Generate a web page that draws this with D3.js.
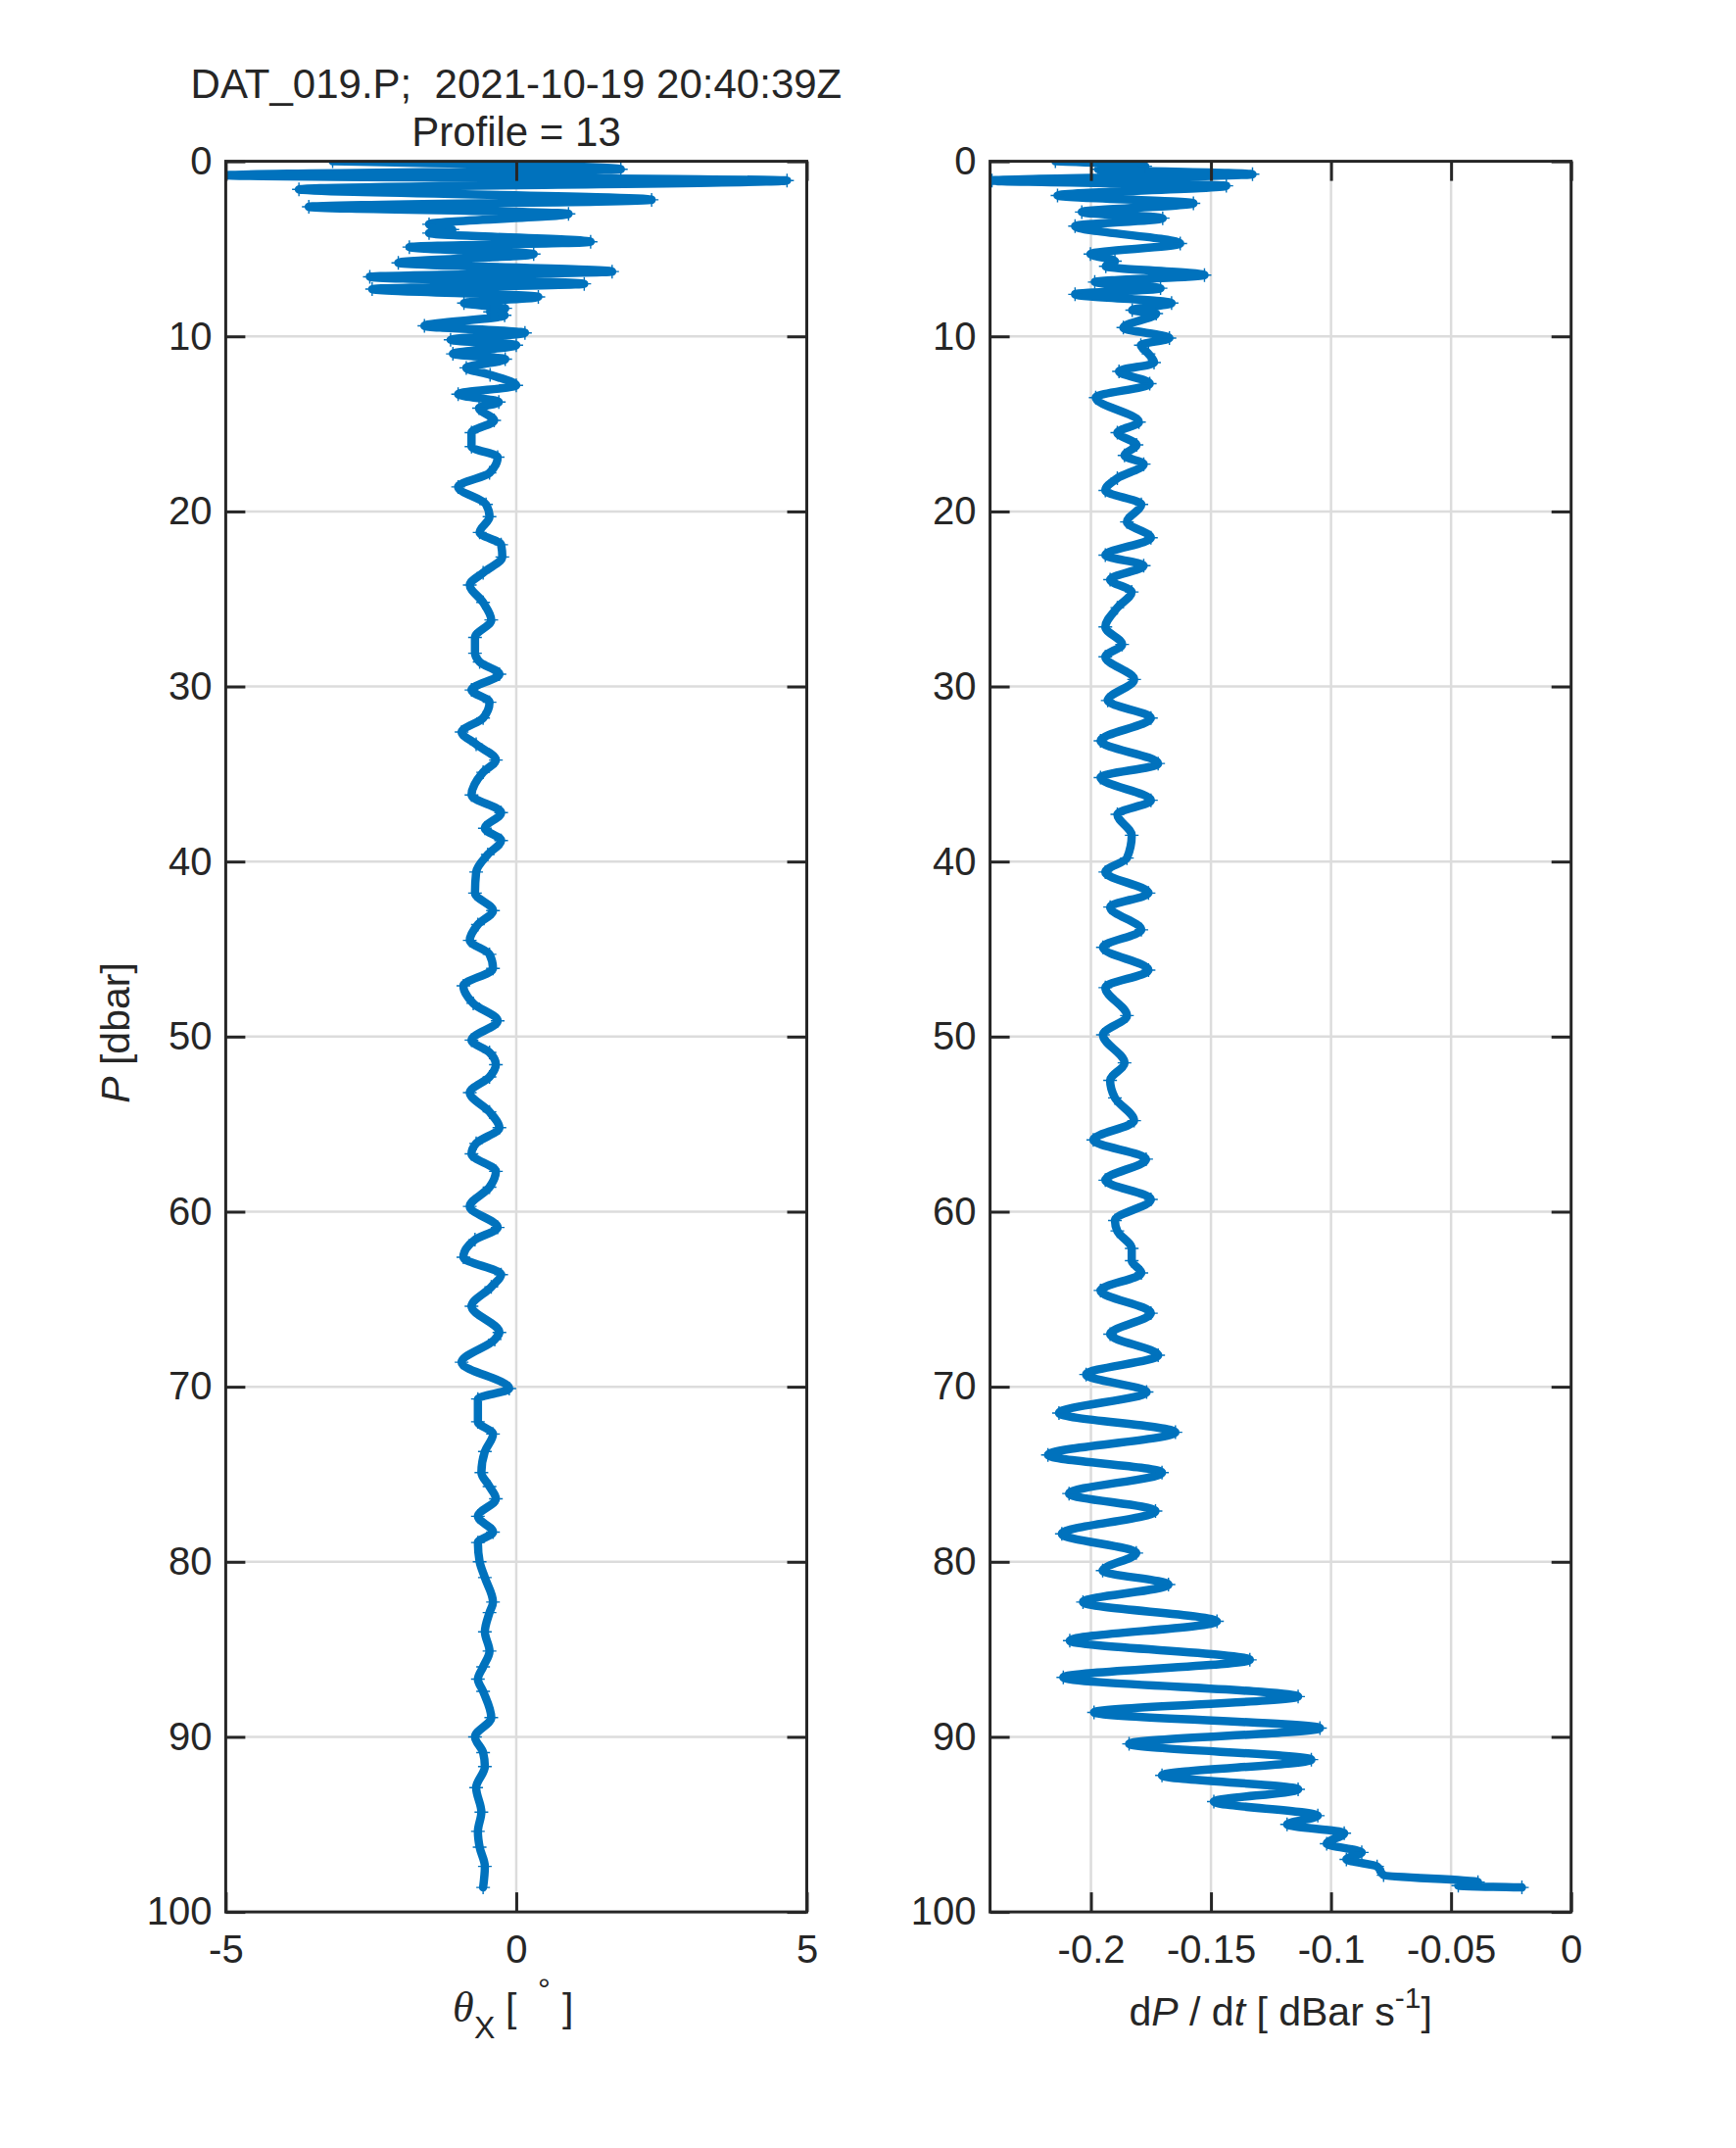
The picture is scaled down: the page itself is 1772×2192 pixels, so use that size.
<!DOCTYPE html>
<html>
<head>
<meta charset="utf-8">
<script src="https://cdn.jsdelivr.net/npm/d3@7"></script>
<style>
  html, body { margin: 0; padding: 0; background: #ffffff; }
  svg { display: block; }
  text { font-family: "Liberation Sans", Arial, Helvetica, sans-serif; fill: #262626; }
</style>
</head>
<body>
<svg id="chart" width="1772" height="2192"></svg>
<script>
// ---------------- DATA ----------------
const titleLines = ["DAT_019.P;  2021-10-19 20:40:39Z", "Profile = 13"];

const pressureTicks = [0, 10, 20, 30, 40, 50, 60, 70, 80, 90, 100];
const pressureTickLabels = ["0", "10", "20", "30", "40", "50", "60", "70", "80", "90", "100"];

const thetaTicks = [-5, 0, 5];
const thetaTickLabels = ["-5", "0", "5"];
const thetaDomain = [-5, 5];

const dpdtTicks = [-0.2, -0.15, -0.1, -0.05, 0];
const dpdtTickLabels = ["-0.2", "-0.15", "-0.1", "-0.05", "0"];
const dpdtDomain = [-0.242, 0];

// theta_X [deg] vs P [dbar]
const thetaP = [0, 0.46, 0.8, 1.1, 1.6, 2.2, 2.6, 3.0, 3.6, 3.9, 4.1, 4.6, 4.9, 5.3, 5.8, 6.3, 6.6, 7.0, 7.3, 7.75,
  8.1, 8.4, 8.6, 8.8, 9.4, 9.8, 10.2, 10.5, 11.0, 11.3, 11.8, 12.2, 12.8, 13.3, 13.75, 14.1, 14.8, 15.5, 16.3, 16.9,
  17.8, 18.6, 19.6, 20.3, 21.2, 21.9, 22.6, 23.5, 24.2, 25.2, 26.2, 27.2, 28.1, 28.6, 29.3, 30.2, 30.9, 31.8, 32.6, 33.3,
  34.2, 34.9, 36.2, 37.2, 38.1, 38.8, 39.6, 40.6, 41.8, 42.8, 43.6, 44.5, 45.3, 46.1, 47.1, 48.1, 49.1, 50.2, 50.9, 51.6,
  52.3, 53.2, 54.3, 55.2, 56.1, 56.7, 57.7, 58.6, 59.7, 60.9, 61.6, 62.6, 63.6, 64.3, 65.4, 66.9, 67.3, 68.6, 70.1, 70.7,
  72.0, 72.7, 73.7, 74.9, 75.7, 76.4, 77.4, 78.3, 78.9, 80.0, 80.9, 82.3, 82.9, 84.0, 85.1, 86.0, 86.7, 87.4, 88.9, 90.0,
  90.9, 91.7, 92.9, 94.3, 95.4, 96.3, 97.4, 98.6];
const thetaX = [-3.16, 1.8, -5.0, 4.66, -3.74, 2.33, -3.57, 0.9, -1.5, -1.1, -1.5, 1.28, -1.84, 0.3, -2.03, 1.65, -2.52, 1.17, -2.48, 0.38,
  -0.9, -0.19, -0.45, -0.2, -1.58, 0.15, -1.13, 0.0, -1.09, -0.19, -0.86, -0.45, 0.0, -1.0, -0.3, -0.64, -0.38, -0.77, -0.77, -0.32,
  -0.46, -1.0, -0.52, -0.46, -0.63, -0.26, -0.24, -0.57, -0.8, -0.57, -0.43, -0.71, -0.71, -0.63, -0.29, -0.77, -0.46, -0.57, -0.94, -0.69,
  -0.35, -0.57, -0.77, -0.26, -0.54, -0.26, -0.49, -0.69, -0.71, -0.4, -0.66, -0.8, -0.46, -0.4, -0.91, -0.74, -0.32, -0.77, -0.46, -0.35,
  -0.46, -0.8, -0.46, -0.29, -0.69, -0.77, -0.35, -0.46, -0.8, -0.32, -0.71, -0.91, -0.26, -0.43, -0.77, -0.29, -0.37, -0.94, -0.12, -0.66,
  -0.66, -0.4, -0.54, -0.6, -0.46, -0.35, -0.66, -0.4, -0.66, -0.63, -0.54, -0.4, -0.46, -0.54, -0.46, -0.57, -0.66, -0.57, -0.43, -0.71,
  -0.57, -0.54, -0.69, -0.6, -0.66, -0.63, -0.54, -0.57];

// dP/dt [dBar/s] vs P [dbar]
const dpdtP = [0, 0.28, 0.46, 0.74, 1.1, 1.4, 1.95, 2.4, 2.9, 3.25, 3.7, 4.7, 5.3, 5.7, 6.0, 6.5, 6.9, 7.25, 7.6, 8.1,
  8.5, 8.7, 9.5, 10.1, 10.5, 11.0, 11.5, 12.0, 12.7, 13.5, 14.9, 15.5, 16.2, 16.8, 17.3, 18.1, 18.8, 19.6, 20.6, 21.5,
  22.5, 23.1, 23.9, 24.6, 25.5, 26.6, 27.6, 28.3, 29.6, 30.8, 31.8, 33.1, 34.4, 35.2, 36.5, 37.3, 38.5, 39.8, 40.6, 41.8,
  42.6, 43.9, 44.9, 46.2, 47.2, 48.8, 49.9, 51.5, 52.5, 53.5, 54.8, 55.9, 57.0, 58.2, 59.3, 60.5, 61.1, 62.1, 62.8, 63.5,
  64.5, 65.8, 67.0, 68.2, 69.3, 70.3, 71.5, 72.6, 73.9, 74.9, 76.1, 77.1, 78.4, 79.5, 80.5, 81.3, 82.3, 83.4, 84.5, 85.6,
  86.6, 87.7, 88.6, 89.5, 90.4, 91.3, 92.2, 93.0, 93.7, 94.5, 95.0, 95.5, 96.1, 96.6, 97.0, 97.4, 97.9, 98.3, 98.5, 98.6];
const dpdt = [-0.2148, -0.1774, -0.197, -0.1327, -0.2412, -0.1436, -0.2139, -0.1573, -0.2038, -0.1701, -0.2066, -0.1628, -0.2002, -0.190, -0.1938, -0.1527, -0.1984, -0.171, -0.2066, -0.1664,
  -0.1828, -0.1728, -0.1865, -0.1673, -0.1792, -0.176, -0.1737, -0.1883, -0.1755, -0.198, -0.180, -0.189, -0.181, -0.186, -0.178, -0.189, -0.194, -0.179, -0.185, -0.175,
  -0.194, -0.178, -0.192, -0.183, -0.189, -0.194, -0.187, -0.194, -0.182, -0.193, -0.175, -0.196, -0.172, -0.196, -0.175, -0.189, -0.183, -0.185, -0.194, -0.176,
  -0.192, -0.179, -0.195, -0.176, -0.194, -0.185, -0.195, -0.186, -0.192, -0.190, -0.182, -0.199, -0.177, -0.194, -0.175, -0.190, -0.189, -0.183, -0.183, -0.179,
  -0.196, -0.175, -0.192, -0.172, -0.202, -0.1768, -0.2133, -0.1648, -0.2179, -0.1704, -0.2091, -0.1731, -0.2121, -0.1811, -0.1951, -0.1677, -0.2033, -0.1475, -0.2088, -0.1338,
  -0.2115, -0.1137, -0.1987, -0.1046, -0.1841, -0.1082, -0.1704, -0.1137, -0.1488, -0.1055, -0.1183, -0.0945, -0.1018, -0.0872, -0.0936, -0.0808, -0.0781, -0.0388, -0.047, -0.0205];

// ---------------- LAYOUT ----------------
const W = 1772, H = 2192;
const axTop = 164.6, axH = 1786.5, axW = 593.1;
const lineColor = "#0072BD";
const ink = "#262626";
const gridColor = "#dcdcdc";
const tickLen = 20;

const svg = d3.select("#chart");
svg.append("rect").attr("width", W).attr("height", H).attr("fill", "#ffffff");

const yScale = d3.scaleLinear().domain([0, 100]).range([axTop, axTop + axH]);

function panel(x0, domain, xTicks, xTickLabels, pArr, vArr, curve, id) {
  const xScale = d3.scaleLinear().domain(domain).range([x0, x0 + axW]);
  const g = svg.append("g");

  // grid
  const grid = g.append("g");
  grid.selectAll("line.gy").data(pressureTicks.filter(d => d > 0 && d < 100)).join("line")
    .attr("x1", x0).attr("x2", x0 + axW)
    .attr("y1", d => yScale(d)).attr("y2", d => yScale(d))
    .attr("stroke", gridColor).attr("stroke-width", 2.5);
  grid.selectAll("line.gx").data(xTicks.filter(d => d > domain[0] && d < domain[1])).join("line")
    .attr("x1", d => xScale(d)).attr("x2", d => xScale(d))
    .attr("y1", axTop).attr("y2", axTop + axH)
    .attr("stroke", gridColor).attr("stroke-width", 2.5);

  // data
  const clipId = "clip" + id;
  svg.append("defs").append("clipPath").attr("id", clipId)
    .append("rect").attr("x", x0).attr("y", axTop).attr("width", axW).attr("height", axH);
  const pts = pArr.map((p, i) => [vArr[i], p]);
  const line = d3.line().x(d => xScale(d[0])).y(d => yScale(d[1])).curve(curve);
  const dg = g.append("g").attr("clip-path", `url(#${clipId})`);
  dg.append("path").attr("d", line(pts)).attr("fill", "none")
    .attr("stroke", lineColor).attr("stroke-width", 8.5).attr("stroke-linejoin", "round").attr("stroke-linecap", "round");
  const mk = 7;
  dg.selectAll("path.mk").data(pts).join("path")
    .attr("d", d => {
      const cx = xScale(d[0]), cy = yScale(d[1]);
      return `M${cx - mk},${cy}H${cx + mk}M${cx},${cy - mk}V${cy + mk}`;
    })
    .attr("stroke", lineColor).attr("stroke-width", 1.4).attr("fill", "none");

  // axes
  const styleAxis = sel => {
    sel.select(".domain").remove();
    sel.selectAll(".tick line").attr("stroke", ink).attr("stroke-width", 3);
    sel.selectAll(".tick text").attr("fill", ink).style("font-size", "40px")
      .style("font-family", '"Liberation Sans", Arial, Helvetica, sans-serif');
  };
  g.append("g").attr("transform", `translate(0,${axTop + axH})`)
    .call(d3.axisBottom(xScale).tickValues(xTicks).tickFormat((d, i) => xTickLabels[i]).tickSizeInner(-tickLen).tickSizeOuter(0).tickPadding(24))
    .call(styleAxis);
  g.append("g").attr("transform", `translate(0,${axTop})`)
    .call(d3.axisTop(xScale).tickValues(xTicks).tickFormat("").tickSizeInner(-tickLen).tickSizeOuter(0))
    .call(styleAxis);
  g.append("g").attr("transform", `translate(${x0},0)`)
    .call(d3.axisLeft(yScale).tickValues(pressureTicks).tickFormat((d, i) => pressureTickLabels[i]).tickSizeInner(-tickLen).tickSizeOuter(0).tickPadding(14))
    .call(styleAxis);
  g.append("g").attr("transform", `translate(${x0 + axW},0)`)
    .call(d3.axisRight(yScale).tickValues(pressureTicks).tickFormat("").tickSizeInner(-tickLen).tickSizeOuter(0))
    .call(styleAxis);

  g.append("rect").attr("x", x0).attr("y", axTop).attr("width", axW).attr("height", axH)
    .attr("fill", "none").attr("stroke", ink).attr("stroke-width", 3);
  return xScale;
}

const leftX0 = 230.4, rightX0 = 1010.6;
panel(leftX0, thetaDomain, thetaTicks, thetaTickLabels, thetaP, thetaX, d3.curveMonotoneY, "L");
panel(rightX0, dpdtDomain, dpdtTicks, dpdtTickLabels, dpdtP, dpdt, d3.curveMonotoneY, "R");

// ---------------- TEXT ----------------
const cxL = leftX0 + axW / 2, cxR = rightX0 + axW / 2;
svg.append("text").attr("x", cxL).attr("y", 100).attr("text-anchor", "middle")
  .style("font-size", "42px").style("white-space", "pre").text(titleLines[0]);
svg.append("text").attr("x", cxL).attr("y", 149).attr("text-anchor", "middle")
  .style("font-size", "42px").text(titleLines[1]);

// y label
const yl = svg.append("text").attr("transform", `translate(132,1054) rotate(-90)`)
  .attr("text-anchor", "middle").style("font-size", "41px");
yl.append("tspan").style("font-style", "italic").text("P");
yl.append("tspan").text(" [dbar]");

// left x label: theta_X [ ° ]
const xl = svg.append("text").attr("y", 2063).style("font-size", "41px");
xl.append("tspan").attr("x", 462).style("font-family", '"Liberation Serif", "DejaVu Serif", serif')
  .style("font-style", "italic").style("font-size", "44px").text("θ");
xl.append("tspan").attr("x", 484).attr("dy", 17).style("font-size", "32px").text("X");
xl.append("tspan").attr("x", 516).attr("dy", -17).text("[");
xl.append("tspan").attr("x", 549).attr("dy", -22).style("font-size", "32px").text("°");
xl.append("tspan").attr("x", 574).attr("dy", 22).text("]");

// right x label: dP / dt [ dBar s^-1 ]
const xr = svg.append("text").attr("x", cxR).attr("y", 2067).attr("text-anchor", "middle")
  .style("font-size", "41px").style("white-space", "pre");
xr.append("tspan").text("d");
xr.append("tspan").style("font-style", "italic").text("P");
xr.append("tspan").text(" / d");
xr.append("tspan").style("font-style", "italic").text("t");
xr.append("tspan").text(" [ dBar s");
xr.append("tspan").attr("dy", -18).style("font-size", "30px").text("-1");
xr.append("tspan").attr("dy", 18).text("]");
</script>
</body>
</html>
